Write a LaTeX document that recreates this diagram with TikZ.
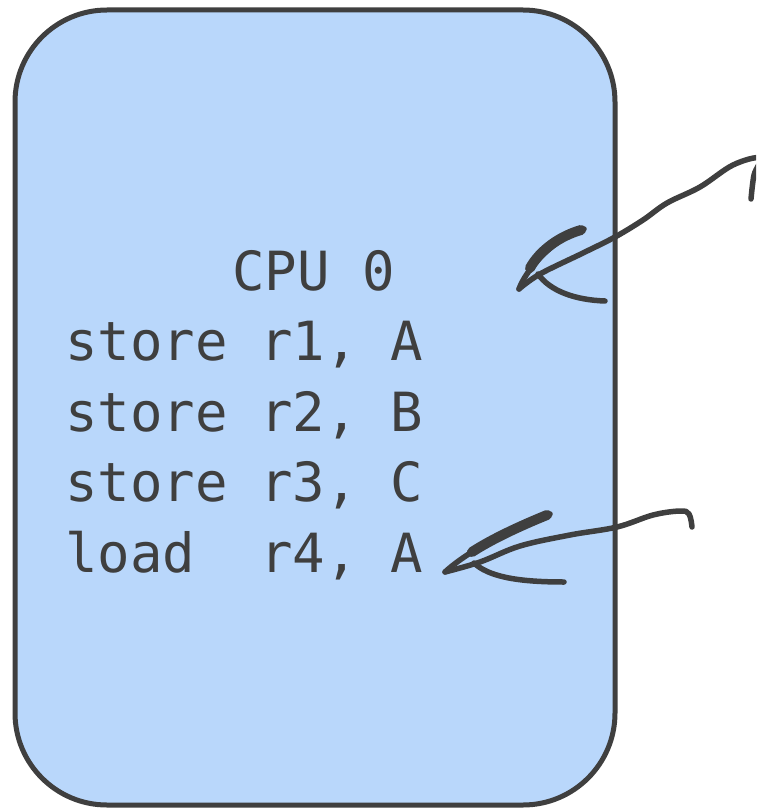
\documentclass[tikz,border=0pt]{standalone}
\usepackage{fontspec}
\setmonofont{DejaVu Sans Mono}
\definecolor{cpufill}{HTML}{B9D7FB}
\definecolor{ink}{HTML}{3F3F3F}
\tikzset{
  cpubox/.style={draw=ink, fill=cpufill, line width=5pt, rounded corners=92pt},
  codeline/.style={anchor=base west, inner sep=0pt, text=ink,
    font=\ttfamily\fontsize{54pt}{60pt}\selectfont},
  sketch/.style={draw=ink, line width=5.5pt, line cap=round, line join=round},
  barb/.style={draw=ink, line width=10pt, line cap=round},
}
\begin{document}
\begin{tikzpicture}[x=1pt, y=-1pt]
  \useasboundingbox (0,0) rectangle (756,810);
  \clip (0,0) rectangle (756,810);

  % processor block
  \draw[cpubox] (15,10) rectangle (615,805);
  \coordinate (cpu) at (315,407);

  % program listing
  \node[codeline] (title) at (232,290) {CPU 0};
  \node[codeline] (l1) at (65,360) {store r1, A};
  \node[codeline] (l2) at (65,431) {store r2, B};
  \node[codeline] (l3) at (65,501) {store r3, C};
  \node[codeline] (l4) at (65,572) {load\ \ r4, A};

  % upper hand-drawn arrow
  \coordinate (tailA) at (751,199);
  \coordinate (tipA) at (519,289);
  \draw[sketch] plot[smooth, tension=0.6] coordinates {
    (tailA) (754,175) (760,158) (733,165) (700,187) (667,203)
    (643,220) (615,237) (583,253) (540,274) (tipA)};
  \draw[sketch] (tipA) .. controls (525,272) and (550,240) .. (584,229);
  \draw[barb] (530,268) .. controls (540,250) and (560,236) .. (581,230);
  \draw[sketch] (538,274) .. controls (550,291) and (575,300) .. (605,301);

  % lower hand-drawn arrow
  \coordinate (tailB) at (692,527);
  \coordinate (tipB) at (445,572);
  \draw[sketch] plot[smooth, tension=0.6] coordinates {
    (tailB) (689,514) (680,511) (653,515) (617,527) (570,535)
    (520,546) (480,562) (tipB)};
  \draw[sketch] (tipB) .. controls (462,556) and (500,533) .. (550,514);
  \draw[barb] (472,552) .. controls (492,539) and (520,526) .. (547,515);
  \draw[sketch] (474,563) .. controls (488,576) and (515,582) .. (564,582);
\end{tikzpicture}
\end{document}
